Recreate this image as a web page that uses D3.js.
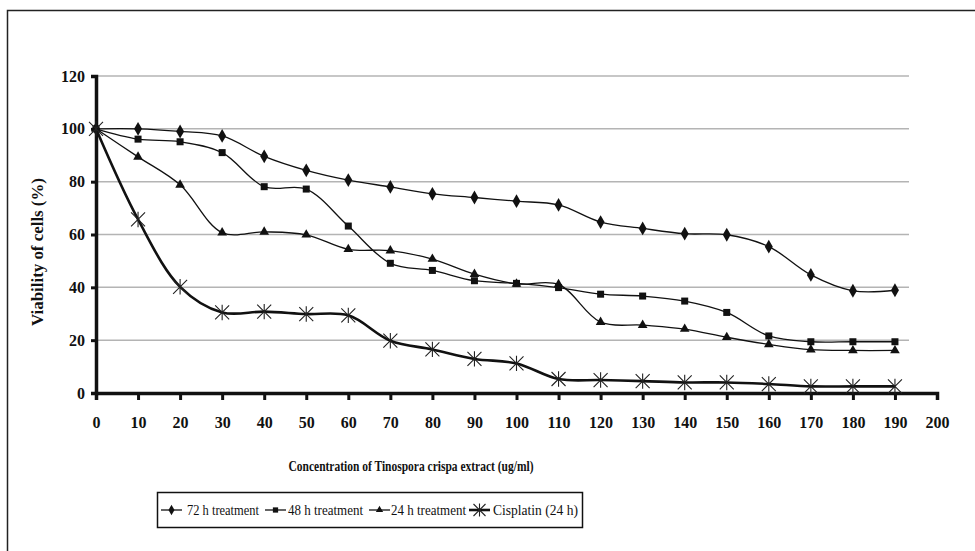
<!DOCTYPE html>
<html><head><meta charset="utf-8">
<script src="https://cdn.jsdelivr.net/npm/d3@7"></script>
<style>body{margin:0;background:#fff}svg{display:block}</style>
</head><body><svg id="c" width="975" height="551"></svg>
<script>
const concentrations = [0,10,20,30,40,50,60,70,80,90,100,110,120,130,140,150,160,170,180,190];
const h72 = [100,100,99,97.3,89.6,84.3,80.6,78,75.4,74,72.6,71.2,64.7,62.3,60.3,59.9,55.4,44.7,38.7,38.9];
const h48 = [100,96.1,95.1,91,78.1,77.2,63.2,49.1,46.4,42.5,41.5,39.9,37.4,36.7,34.8,30.5,21.6,19.4,19.4,19.4];
const h24 = [100,89.4,78.8,60.7,61,59.9,54.4,53.9,50.7,45,41.3,41.1,26.8,25.7,24.2,21.1,18.4,16.4,16.1,16.1];
const cisplatin = [100,65.7,40.2,30.5,30.8,29.9,29.4,19.8,16.5,12.9,11.2,5.3,4.9,4.5,4,4,3.4,2.5,2.5,2.5];
const seriesNames = ["72 h treatment","48 h treatment","24 h treatment","Cisplatin (24 h)"];
const xTicks = d3.range(0,201,10);
const yTicks = [0,20,40,60,80,100,120];

const FONT = "'Liberation Serif','Times New Roman','DejaVu Serif',serif";
const svg = d3.select("#c");
// frame
svg.append("path").attr("d","M7.5,551 V10.5 H975").attr("fill","none").attr("stroke","#222").attr("stroke-width",1.5);

const x = d3.scaleLinear().domain([0,200]).range([96,937]);
const y = d3.scaleLinear().domain([0,120]).range([393,76]);

// gridlines
svg.append("g").selectAll("line").data(yTicks.filter(d=>d>0)).join("line")
  .attr("x1",x(0)).attr("x2",909).attr("y1",d=>y(d)).attr("y2",d=>y(d))
  .attr("stroke","#b4b4b4").attr("stroke-width",1.5);

// axes
const gx = svg.append("g").attr("transform",`translate(0,${y(0)})`)
  .call(d3.axisBottom(x).tickValues(xTicks).tickSize(7).tickPadding(17).tickFormat(d3.format("d")));
const gy = svg.append("g").attr("transform",`translate(${x(0)},0)`)
  .call(d3.axisLeft(y).tickValues(yTicks).tickSize(5).tickPadding(6).tickFormat(d3.format("d")));
[gx,gy].forEach(g=>{
  g.attr("font-family",null).attr("font-size",null);
  g.select(".domain").attr("stroke","#111").attr("stroke-width",3.5);
  g.selectAll(".tick line").attr("stroke","#111").attr("stroke-width",3);
  g.selectAll(".tick text").style("font-family",FONT).style("font-size","16px").style("font-weight","bold").attr("fill","#111");
});

// axis titles
svg.append("text").attr("transform","translate(43,252) rotate(-90)").attr("text-anchor","middle")
  .style("font-family",FONT).style("font-size","16px").style("font-weight","bold").attr("fill","#111")
  .attr("textLength",148).attr("lengthAdjust","spacingAndGlyphs").text("Viability of cells (%)");
svg.append("text").attr("x",411).attr("y",471).attr("text-anchor","middle")
  .style("font-family",FONT).style("font-size","15px").style("font-weight","bold").attr("fill","#111")
  .attr("textLength",245).attr("lengthAdjust","spacingAndGlyphs").text("Concentration of Tinospora crispa extract (ug/ml)");

// markers
function marker(g, type, cx, cy, s){
  if(type==="diamond"){
    g.append("path").attr("d",d3.symbol(d3.symbolDiamond, s*s*0.55)()).attr("transform",`translate(${cx},${cy})`).attr("fill","#111");
  } else if(type==="square"){
    g.append("rect").attr("x",cx-s/2).attr("y",cy-s/2).attr("width",s).attr("height",s).attr("fill","#111");
  } else if(type==="triangle"){
    g.append("path").attr("d",d3.symbol(d3.symbolTriangle, s*s*0.5)()).attr("transform",`translate(${cx},${cy})`).attr("fill","#111");
  } else {
    const r=s/2;
    const p=`M${cx-r},${cy-r}L${cx+r},${cy+r}M${cx-r},${cy+r}L${cx+r},${cy-r}M${cx},${cy-r*1.1}L${cx},${cy+r*1.1}`;
    g.append("path").attr("d",p).attr("stroke","#222").attr("stroke-width",1.1).attr("fill","none");
  }
}

const series = [
  {name:seriesNames[0], vals:h72, type:"diamond", w:1.3, s:10},
  {name:seriesNames[1], vals:h48, type:"square", w:1.3, s:7},
  {name:seriesNames[2], vals:h24, type:"triangle", w:1.3, s:9},
  {name:seriesNames[3], vals:cisplatin, type:"star", w:2.6, s:14}
];
const line = d3.line().x(d=>x(d[0])).y(d=>y(d[1])).curve(d3.curveCatmullRom.alpha(0.5));
series.forEach(sr=>{
  const pts = concentrations.map((c,i)=>[c,sr.vals[i]]);
  svg.append("path").attr("d",line(pts)).attr("fill","none").attr("stroke","#111").attr("stroke-width",sr.w);
  const g = svg.append("g");
  pts.forEach(p=>marker(g, sr.type, x(p[0]), y(p[1]), sr.s));
});

// legend
const lg = svg.append("g");
lg.append("rect").attr("x",157.5).attr("y",492.5).attr("width",425).attr("height",35)
  .attr("fill","none").attr("stroke","#111").attr("stroke-width",1.5);
const legX = [161,265,369,469];
const legTextX = [187,288,391,493];
const legTextLen = [72,75,75,85];
series.forEach((sr,i)=>{
  const lx = legX[i], ly = 510;
  lg.append("line").attr("x1",lx).attr("x2",lx+21).attr("y1",ly).attr("y2",ly).attr("stroke","#111").attr("stroke-width",sr.w);
  marker(lg, sr.type, lx+10.5, ly, sr.type==="star"?12:sr.s*0.75);
  lg.append("text").attr("x",legTextX[i]).attr("y",ly+5)
    .style("font-family",FONT).style("font-size","15px").style("font-weight","normal").attr("fill","#111")
    .attr("textLength",legTextLen[i]).attr("lengthAdjust","spacingAndGlyphs").text(sr.name);
});
</script></body></html>
